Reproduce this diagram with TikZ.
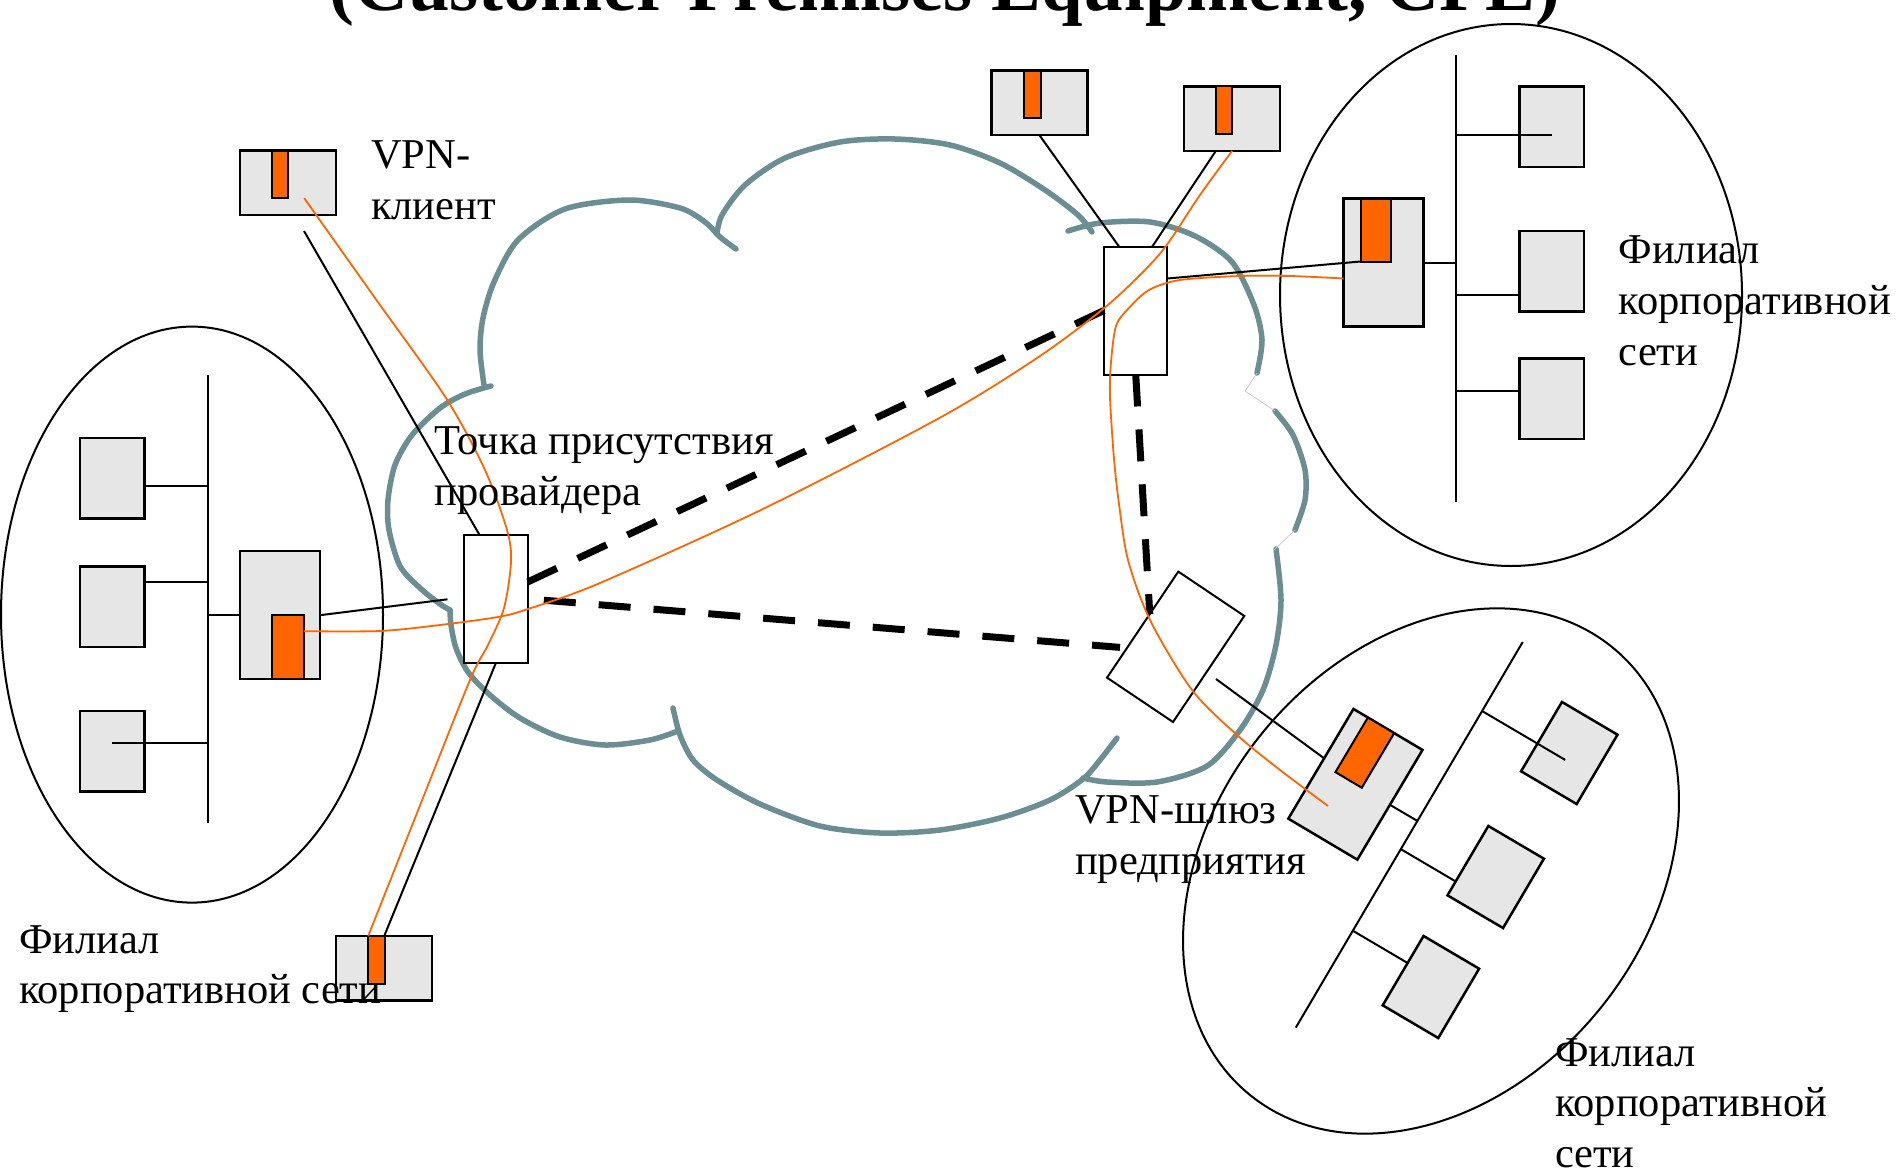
\documentclass[tikz,border=0pt]{standalone}
\usepackage{fontspec}
\setmainfont{Liberation Serif}
\usetikzlibrary{calc}

\definecolor{hostfill}{HTML}{E6E6E6}
\definecolor{vpnorange}{HTML}{FF6600}
\definecolor{cloudc}{HTML}{6B8E92}

\begin{document}
\begin{tikzpicture}[x=1pt, y=-1pt,
  host/.style={draw, line width=2.5pt, fill=hostfill, inner sep=0pt, outer sep=0pt,
               minimum width=64.5pt, minimum height=80.5pt},
  cpe/.style={host, minimum width=80pt, minimum height=128pt},
  client/.style={host, minimum width=96pt, minimum height=64.5pt},
  vpnbar/.style={draw, line width=2pt, fill=vpnorange, inner sep=0pt, outer sep=0pt},
  clientbar/.style={vpnbar, minimum width=16.5pt, minimum height=47.5pt, anchor=north west},
  router/.style={draw, line width=2pt, fill=white, inner sep=0pt, outer sep=0pt,
                 minimum width=64pt, minimum height=128pt},
  wire/.style={line width=2pt},
  lan/.style={line width=2pt},
  tunnel/.style={line width=1.8pt, draw=vpnorange},
  trunk/.style={line width=7pt, dash pattern=on 32pt off 23pt},
  cloudline/.style={draw=cloudc, line width=5.5pt, line cap=round, line join=round},
  cusp/.style={draw=black!22, line width=0.7pt},
  txt/.style={anchor=base west, inner sep=0pt, outer sep=0pt, font=\fontsize{42.5}{51}\selectfont}
]
\useasboundingbox (0,0) rectangle (1897,1172);
\clip (0,0) rectangle (1897,1172);

% ---------- provider cloud ----------
\draw[cloudline] plot[smooth] coordinates {(484,385) (480,350) (483,318) (494,282) (518,240) (565,209) (629,200) (680,208) (705,222) (720,237) (736,249)};
\draw[cloudline] plot[smooth] coordinates {(717,234) (722,215) (745,185) (785,158) (840,142) (895,139) (950,145) (1000,163) (1045,190) (1078,215) (1092,232)};
\draw[cloudline] plot[smooth] coordinates {(1068,231) (1100,223) (1150,222) (1195,236) (1232,262) (1254,305) (1262,340) (1257,373)};
\draw[cloudline] plot[smooth] coordinates {(1275,411) (1293,435) (1305,470) (1305,500) (1295,530)};
\draw[cloudline] plot[smooth] coordinates {(1276,549) (1281,600) (1276,645) (1263,690) (1240,730) (1207,766) (1157,782) (1107,782) (1083,778)};
\draw[cloudline] plot[smooth] coordinates {(1117,738) (1100,760) (1083,779) (1050,800) (1000,818) (940,830) (880,833) (820,826) (760,804) (717,780) (693,760) (680,735) (673,708)};
\draw[cloudline] plot[smooth] coordinates {(678,731) (650,740) (605,745) (560,737) (520,718) (490,695) (468,672) (456,648) (451,625) (450,610)};
\draw[cloudline] plot[smooth] coordinates {(450,610) (440,604) (420,588) (400,566) (389,530) (388,500) (395,465) (412,435) (440,408) (465,394) (491,386)};
\draw[cusp] (1257,373) -- (1245,391) -- (1275,411);
\draw[cusp] (1295,530) -- (1273,551);

% ---------- branch network outlines ----------
\draw[lan] (192,614.6) ellipse [x radius=191pt, y radius=288pt];
\draw[lan] (1511,295) ellipse [x radius=231pt, y radius=271pt];
\draw[lan, rotate around={-38.9:(1431,871)}] (1431,871) ellipse [x radius=218pt, y radius=288pt];

% ---------- left branch ----------
\coordinate (lbusT) at (207.8,375.3);
\coordinate (lbusB) at (207.8,823.4);
\node[host] (l1) at (112,478.4) {};
\node[host] (l2) at (112,606.6) {};
\node[host] (l3) at (112,751) {};
\node[cpe] (lcpe) at (279.9,615.2) {};
\node[vpnbar, minimum width=32.5pt, minimum height=64pt, anchor=south west] (lbar) at ([xshift=31.7pt]lcpe.south west) {};

% ---------- upper right branch ----------
\coordinate (rbusT) at (1455.5,55);
\coordinate (rbusB) at (1455.5,502.4);
\node[host] (ra) at (1551.6,126.6) {};
\node[host] (rb) at (1551.6,271.2) {};
\node[host] (rc) at (1551.6,398.7) {};
\node[cpe] (rcpe) at (1383.65,262.5) {};
\node[vpnbar, minimum width=30.8pt, minimum height=63pt, anchor=north west] (rbar) at ([xshift=17pt]rcpe.north west) {};

% ---------- lower right branch ----------
\coordinate (bbusT) at (1522.7,642);
\coordinate (bbusB) at (1295.8,1027.6);
\node[host, rotate=-30.5] (bd) at (1569.3,753) {};
\node[host, rotate=-30.5] (be) at (1495.7,877) {};
\node[host, rotate=-30.5] (bf) at (1430.9,987) {};
\node[cpe, rotate=-30.7, minimum width=80.3pt, minimum height=127.6pt] (bcpe) at (1355.4,784.3) {};
\node[vpnbar, rotate=-30.7, minimum width=30.6pt, minimum height=63.5pt, anchor=north west] (bbar) at ($(bcpe.north west)!0.209!(bcpe.north east)$) {};

% ---------- remote clients ----------
\node[client] (c1) at (288,182.9) {};
\node[clientbar] (c1bar) at ([xshift=31.7pt]c1.north west) {};
\node[client] (c2) at (384.2,968.3) {};
\node[clientbar] (c2bar) at ([xshift=32pt]c2.north west) {};
\node[client] (tb1) at (1039.4,102.9) {};
\node[clientbar] (tb1bar) at ([xshift=32.7pt]tb1.north west) {};
\node[client] (tb2) at (1232.1,118.7) {};
\node[clientbar] (tb2bar) at ([xshift=31.4pt]tb2.north west) {};

% ---------- provider edge devices ----------
\node[router] (pop) at (495.9,598.9) {};
\node[router, minimum width=63.5pt] (rr) at (1135.7,310.5) {};
\node[router, rotate=-33.9, minimum width=79.5pt, minimum height=127.8pt] (gw) at (1175.65,646.8) {};

% ---------- LAN buses and drops ----------
\draw[wire] (lbusT) -- (lbusB);
\draw[wire] ([yshift=-7.6pt]l1.east) -- ([yshift=-7.6pt]l1.east -| lbusT);
\draw[wire] ([yshift=24.2pt]l2.east) -- ([yshift=24.2pt]l2.east -| lbusT);
\draw[wire] ([yshift=8pt]l3.center) -- ([yshift=8pt]l3.center -| lbusT);
\draw[wire] (lcpe.west) -- (lcpe.west -| lbusT);

\draw[wire] (rbusT) -- (rbusB);
\draw[wire] ([yshift=-8pt]ra.center) -- ([yshift=-8pt]ra.center -| rbusT);
\draw[wire] ([yshift=-23.4pt]rb.west) -- ([yshift=-23.4pt]rb.west -| rbusT);
\draw[wire] ([yshift=7.7pt]rc.west) -- ([yshift=7.7pt]rc.west -| rbusT);
\draw[wire] (rcpe.east) -- (rcpe.east -| rbusT);

\coordinate (bdend) at ($(bd.center)!0.2!(bd.south)$);
\coordinate (beend) at ($(be.north west)!0.8!(be.south west)$);
\coordinate (bfend) at ($(bf.north west)!0.39!(bf.south west)$);
\draw[wire] (bbusT) -- (bbusB);
\draw[wire] (bdend) -- ($(bbusT)!(bdend)!(bbusB)$);
\draw[wire] (beend) -- ($(bbusT)!(beend)!(bbusB)$);
\draw[wire] (bfend) -- ($(bbusT)!(bfend)!(bbusB)$);
\draw[wire] (bcpe.east) -- ($(bbusT)!(bcpe.east)!(bbusB)$);

% ---------- access links ----------
\coordinate (c1tail) at (304,231);
\coordinate (lcpetail) at (447.5,599.3);
\coordinate (gwtail) at (1216,679);
\draw[wire] (c1tail) -- ([xshift=-16.4pt]pop.north);
\draw[wire] (c2.north) -- (pop.south);
\draw[wire] (lcpe.east) -- (lcpetail);
\draw[wire] (tb1.south) -- ([xshift=-16.7pt]rr.north);
\draw[wire] ([xshift=-16.3pt]tb2.south) -- ([xshift=16.6pt]rr.north);
\draw[wire] ([yshift=32pt]rr.east) -- (rbar.south west);
\draw[wire] (gwtail) -- ($(bcpe.north west)!0.45!(bcpe.south west)$);

% ---------- provider backbone ----------
\draw[trunk] ([yshift=17pt]pop.east) -- (rr.west);
\draw[trunk, shorten <=16pt, shorten >=7pt] (pop.east) -- ($(gw.north west)!0.72!(gw.south west)$);
\draw[trunk] (rr.south) -- ($(gw.north west)!0.4!(gw.south west)$);

% ---------- VPN tunnels ----------
\coordinate (o3end) at (1328,806);
\draw[tunnel] plot[smooth] coordinates {([xshift=16pt]c1bar.south east) (375,298) (446,398) (485,470) (507,530) (511,562) (504,608) (488,645) (470,680) (419,808) (c2bar.north west)};
\draw[tunnel] plot[smooth] coordinates {([yshift=16pt]lbar.east) (380,631) (440,625) (498,617) (528,609) (600,583) (765,508) (943,416) (1040,356) (1103,309) (1140,275) (1166,246) (1200,195) (tb2.south)};
\draw[tunnel] plot[smooth] coordinates {([yshift=-16pt]rcpe.west) (1290,276) (1240,276) (1180,280) (1149,290) (1128,309) (1116,326) (1111,362) (1110,397) (1114,459) (1119,504) (1128,560) (1150,620) (1192,690) (1237,735) (1280,770) (o3end)};

% ---------- captions ----------
\node[anchor=base west, inner sep=0pt, font=\bfseries\fontsize{74.7}{80}\selectfont] (title) at (329,11) {(Customer Premises Equipment, CPE)};
\node[txt] (vc1) at (371,168.2) {VPN-};
\node[txt] (vc2) at (371,219.3) {клиент};
\node[txt] (pp1) at (434.8,454.4) {Точка присутствия};
\node[txt] (pp2) at (434.8,505.3) {провайдера};
\node[txt] (rf1) at (1618.6,263) {Филиал};
\node[txt] (rf2) at (1618.6,314) {корпоративной};
\node[txt] (rf3) at (1618.6,365) {сети};
\node[txt] (gl1) at (1075,823) {VPN-шлюз};
\node[txt] (gl2) at (1075,874) {предприятия};
\node[txt] (bf1) at (1555,1066) {Филиал};
\node[txt] (bf2) at (1555,1116.5) {корпоративной};
\node[txt] (bf3) at (1555,1167) {сети};
\node[txt] (lf1) at (19,953) {Филиал};
\node[txt] (lf2) at (19,1003) {корпоративной сети};
\end{tikzpicture}
\end{document}
